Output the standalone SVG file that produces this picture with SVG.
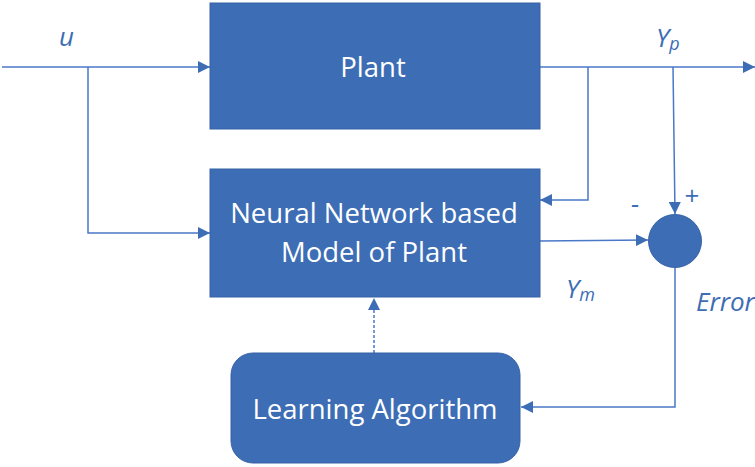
<svg xmlns="http://www.w3.org/2000/svg" width="755" height="467" viewBox="0 0 755 467">
<defs>
<style>
.box{fill:#3D6DB5;stroke:#3763A8;stroke-width:1}
.t{font-family:"Open Sans","Noto Sans",sans-serif;font-size:27.5px;fill:#fff;text-anchor:middle}
.lbl{font-family:"Open Sans","Noto Sans",sans-serif;font-size:26px;font-style:italic;fill:#3D6DB5}
.ln{fill:none;stroke:#4A78C8;stroke-width:1.5}
</style>
<marker id="ah2" viewBox="0 0 10 10" refX="10" refY="5" markerWidth="12" markerHeight="12" markerUnits="userSpaceOnUse" orient="auto">
<path d="M0,0 L10,5 L0,10 z" fill="#3D6DB5"/>
</marker>
</defs>
<g id="connectors">
<path class="ln" d="M2,67 H210" marker-end="url(#ah2)"/>
<path class="ln" d="M88,67 V233 H210" marker-end="url(#ah2)"/>
<path class="ln" d="M540,67 H755" marker-end="url(#ah2)"/>
<path class="ln" d="M588,67 V200 H540" marker-end="url(#ah2)"/>
<path class="ln" d="M673,67 L675,214" marker-end="url(#ah2)"/>
<path class="ln" d="M540,241 L648,240" marker-end="url(#ah2)"/>
<path class="ln" d="M675,268 V407 H521" marker-end="url(#ah2)"/>
<path class="ln" d="M374,353 V298" stroke-dasharray="3,2" marker-end="url(#ah2)"/>
</g>
<g id="plant">
<rect class="box" x="210" y="3" width="330" height="126"/>
<text class="t" x="373" y="77">Plant</text>
</g>
<g id="nn-model">
<rect class="box" x="210" y="169" width="330" height="128"/>
<text class="t" x="374" y="223">Neural Network based</text>
<text class="t" x="374" y="262">Model of Plant</text>
</g>
<g id="summer">
<circle class="box" cx="675" cy="241" r="26.5"/>
</g>
<g id="learning">
<rect class="box" x="231" y="353" width="289" height="110" rx="22"/>
<text class="t" x="375" y="419">Learning Algorithm</text>
</g>
<g id="labels">
<text class="lbl" x="656" y="47">Y<tspan font-size="18" dy="3">p</tspan></text>
<text class="lbl" x="566" y="298">Y<tspan font-size="18" dy="3">m</tspan></text>
<text class="lbl" x="59" y="46">u</text>
<text class="lbl" x="696" y="311">Error</text>
<text class="lbl" x="631" y="213" font-style="normal" font-size="28">-</text>
<text class="lbl" x="684" y="205" font-style="normal" font-size="28">+</text>
</g>
</svg>
